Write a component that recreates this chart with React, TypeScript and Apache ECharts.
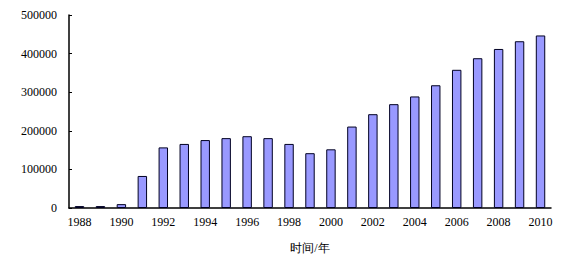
import React, { useEffect, useRef } from "react";
import * as echarts from "echarts";

const years = [
  "1988", "1989", "1990", "1991", "1992", "1993", "1994", "1995", "1996", "1997", "1998", "1999",
  "2000", "2001", "2002", "2003", "2004", "2005", "2006", "2007", "2008", "2009", "2010",
];
const values = [
  5000, 5000, 10000, 83000, 157000, 166000, 176000, 181000, 186000, 181000, 166000, 142000,
  152000, 211000, 243000, 269000, 289000, 318000, 358000, 388000, 412000, 432000, 447000,
];
const xAxisTitle = "时间/年";

export default function App() {
  const ref = useRef<HTMLDivElement>(null);
  useEffect(() => {
    if (!ref.current) return;
    const chart = echarts.init(ref.current, undefined, { renderer: "svg" });
    const font = "Times New Roman, Liberation Serif, DejaVu Serif, serif";
    chart.setOption({
      animation: false,
      backgroundColor: "#ffffff",
      textStyle: { fontFamily: font },
      grid: { left: 69, right: 32, top: 15, bottom: 49, containLabel: false, outerBoundsMode: "none" },
      xAxis: {
        type: "category",
        data: years,
        name: xAxisTitle,
        nameLocation: "middle",
        nameGap: 34,
        nameTextStyle: { color: "#000", fontSize: 12, fontFamily: font },
        axisLine: { lineStyle: { color: "#000", width: 1.5 } },
        axisTick: { show: false },
        axisLabel: { interval: 1, color: "#000", fontSize: 12, fontFamily: font, margin: 8 },
      },
      yAxis: {
        type: "value",
        min: 0,
        max: 500000,
        interval: 100000,
        axisLine: { show: true, lineStyle: { color: "#000", width: 1.5 } },
        axisTick: { show: true, inside: true, length: 3, lineStyle: { color: "#000" } },
        splitLine: { show: false },
        axisLabel: {
          color: "#000",
          fontSize: 12,
          fontFamily: font,
          margin: 12,
          formatter: (v: number) => String(v),
        },
      },
      series: [
        {
          type: "bar",
          data: values,
          barWidth: "45%",
          itemStyle: { color: "#9999ff", borderColor: "#000022", borderWidth: 1 },
        },
      ],
    });
    return () => chart.dispose();
  }, []);
  return (
    <div
      ref={ref}
      style={{ position: "absolute", left: 0, top: 0, width: 583, height: 257, background: "#fff" }}
    />
  );
}
